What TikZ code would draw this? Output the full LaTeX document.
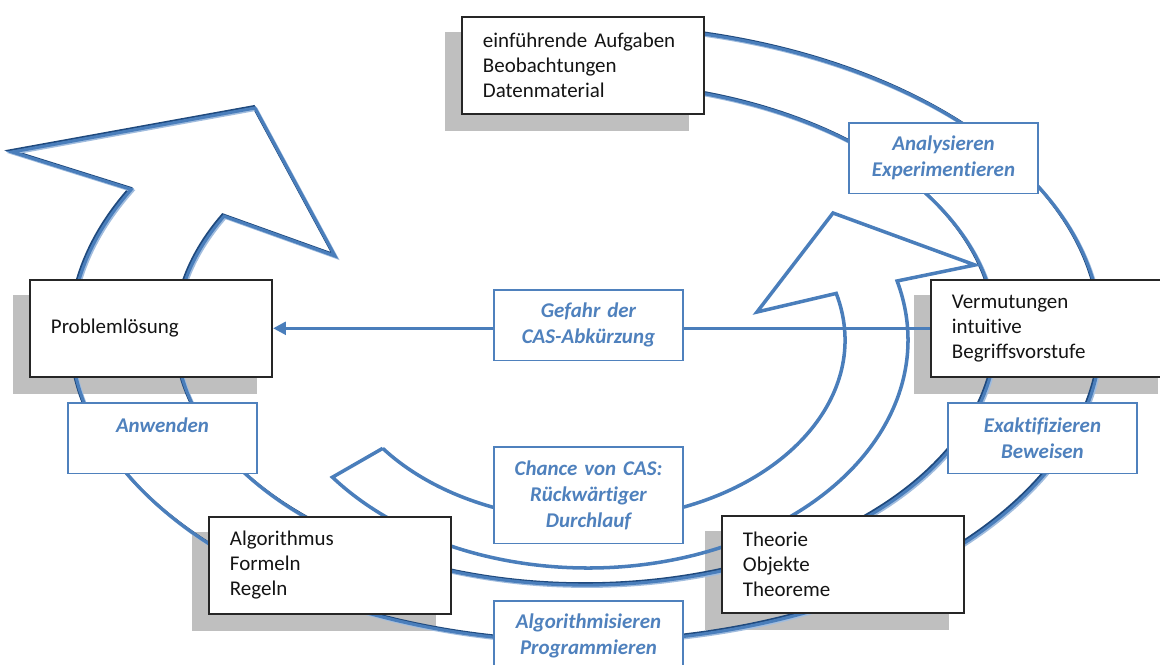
\documentclass[tikz,border=0pt]{standalone}
\usepackage{fontspec}
\setmainfont{Carlito}[Ligatures=NoCommon]
\usetikzlibrary{arrows.meta,calc}
\definecolor{ringblue}{RGB}{74,126,187}
\definecolor{ringdark}{RGB}{31,73,125}
\definecolor{ringlight}{RGB}{160,188,222}
\definecolor{lblblue}{RGB}{79,129,189}
\definecolor{shadowgray}{RGB}{191,191,191}
\definecolor{boxline}{RGB}{38,38,38}
\definecolor{txt}{RGB}{20,20,20}
\pgfdeclarelayer{bg}
\pgfdeclarelayer{mid}
\pgfsetlayers{bg,mid,main}
\begin{document}
\begin{tikzpicture}[x=0.025cm,y=-0.025cm,
  every node/.style={font=\fontsize{14.9pt}{17.7pt}\selectfont},
  infobox/.style={draw=boxline, line width=1.4pt, fill=white, rectangle, anchor=north west,
    minimum width=172.2pt, minimum height=68.7pt, inner xsep=14.9pt, inner ysep=0pt,
    text width=142.4pt, align=left, text=txt},
  lblbox/.style={draw=lblblue, line width=1.2pt, fill=white, rectangle, anchor=north west,
    minimum width=134.6pt, minimum height=50.3pt, inner sep=0pt, text width=134.6pt,
    align=center, text=lblblue, font=\fontsize{14.9pt}{18.4pt}\selectfont\bfseries\itshape},
  bigring/.style={line width=2.2pt, line join=miter},
  smallring/.style={draw=ringblue, line width=2.5pt, line join=miter},
  harrow/.style={draw=ringblue, line width=2.1pt, -{Triangle[length=9pt,width=9pt]}, fill=ringblue}
]
\useasboundingbox (0,0) rectangle (1160,665);

% content boxes
\node[infobox] (einf) at (461,16) {einführende Aufgaben\\Beobachtungen\\Datenmaterial};
\node[infobox] (prob) at (29,279) {Problemlösung};
\node[infobox] (verm) at (930,279) {Vermutungen\\intuitive\\Begriffsvorstufe};
\node[infobox] (algo) at (208,516) {Algorithmus\\Formeln\\Regeln};
\node[infobox] (theo) at (721,515) {Theorie\\Objekte\\Theoreme};

% label boxes
\node[lblbox] (anal) at (848,122) {Analysieren\\Experimentieren};
\node[lblbox] (gef) at (493,289) {Gefahr der\\CAS-Abkürzung};
\node[lblbox] (anw) at (67,402) {Anwenden\\~};
\node[lblbox] (exak) at (947,402) {Exaktifizieren\\Beweisen};
\node[lblbox, minimum height=68.7pt] (chance) at (493,446) {Chance von CAS:\\Rückwärtiger\\Durchlauf};
\node[lblbox] (algp) at (493,600) {Algorithmisieren\\Programmieren};

% shadows
\begin{pgfonlayer}{bg}
\foreach \b in {einf,prob,verm,algo,theo}
  \fill[shadowgray] ($(\b.south west)+(-16,16)$) rectangle ($(\b.north east)+(-16,16)$);
\end{pgfonlayer}

% rings and arrow
\begin{pgfonlayer}{mid}
\foreach \dx/\dy/\c in {-1.3/-1.3/ringdark, 1.3/1.3/ringlight, 0/0/ringblue}
  \draw[bigring, draw=\c, shift={(\dx,\dy)}]
    (496.6,30.7) arc[start angle=260, end angle=568, x radius=515, y radius=308]
    -- (12,152) -- (255,108) -- (335,256) -- (224.0,216.2)
    arc[start angle=568, end angle=260, x radius=410, y radius=251] -- cycle;

\draw[smallring] (382.75,448.33) -- (332.44,477.21)
  arc[start angle=143, end angle=-15, x radius=320, y radius=228]
  -- (975,265) -- (833,213) -- (757,312) -- (836.24,293.41)
  arc[start angle=-15, end angle=143, x radius=257, y radius=180] -- cycle;

\draw[harrow] (verm.west) -- (prob.east);
\end{pgfonlayer}
\end{tikzpicture}
\end{document}
